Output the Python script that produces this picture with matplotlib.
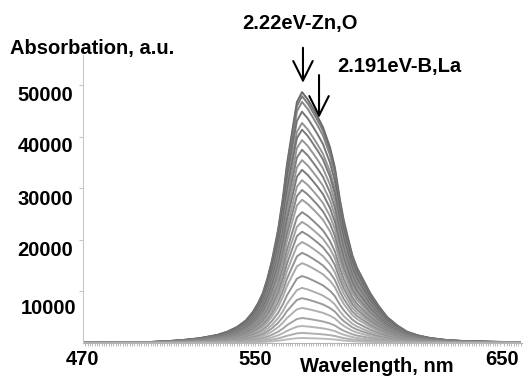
import matplotlib
matplotlib.use('Agg')
import matplotlib.pyplot as plt
import matplotlib.transforms as mtransforms
import numpy as np

# wavelength grid (nm) and normalised shape of the spectra
wavelength = [470.0, 480.0, 490.0, 498.8, 506.0, 513.0, 520.0, 527.6, 532.0, 536.2,
              540.0, 543.0, 545.3, 547.3, 549.3, 551.2, 553.8, 555.9, 557.6, 559.8,
              561.9, 564.1, 566.6, 568.8, 570.9, 573.1, 576.1, 578.2, 580.4, 582.0,
              583.8, 585.7, 587.7, 590.5, 593.3, 597.0, 600.6, 605.0, 609.2, 614.0,
              619.1, 626.0, 633.2, 645.0, 657.7]
profile = [0.002, 0.0025, 0.003, 0.004, 0.007, 0.012, 0.019, 0.032, 0.045, 0.064,
           0.090, 0.124, 0.160, 0.20, 0.26, 0.33, 0.45, 0.58, 0.71, 0.84,
           0.96, 1.00, 0.97, 0.935, 0.90, 0.86, 0.78, 0.70, 0.57, 0.49,
           0.42, 0.35, 0.30, 0.25, 0.20, 0.148, 0.104, 0.070, 0.045, 0.030,
           0.020, 0.012, 0.008, 0.005, 0.003]

# peak heights of the individual spectra (a.u.)
peaks = [48700, 47900, 46800, 44900, 42700, 41400, 39400, 37500, 35500,
         33600, 31600, 29700, 27800, 25400, 23500, 21600, 19600, 17500,
         15500, 13000, 10700, 8700, 6800, 4850, 3300, 1950, 970]
grays = ['#5a5a5a', '#6e6e6e', '#7a7a7a', '#666666', '#858585', '#6a6a6a',
         '#8a8a8a', '#707070', '#8c8c8c', '#6c6c6c', '#909090', '#787878',
         '#949494', '#7c7c7c', '#989898', '#808080', '#9c9c9c', '#868686',
         '#a0a0a0', '#8a8a8a', '#a4a4a4', '#909090', '#a8a8a8', '#9a9a9a',
         '#acacac', '#a6a6a6', '#b4b4b4']

yticks = [10000, 20000, 30000, 40000, 50000]
xticks = [470, 550, 650]

plt.rcParams['font.family'] = ['Liberation Sans', 'DejaVu Sans']
plt.rcParams['font.weight'] = 'bold'
FS = 14.5

fig = plt.figure(figsize=(5.3, 3.76), dpi=100)
ax = fig.add_axes([83 / 530, 1 - 343 / 376, 439 / 530, 288 / 376])

wl = np.array(wavelength)
shape = np.array(profile)
for p, c in zip(peaks, grays):
    ax.plot(wl, shape * p, color=c, lw=1.4, alpha=0.9)

ax.set_xlim(470, 658.6)
ax.set_ylim(0, 55900)

for s in ['top', 'right']:
    ax.spines[s].set_visible(False)
ax.spines['left'].set_color('#c8c8c8')
ax.spines['bottom'].set_color('#b4b4b4')

ax.set_yticks(yticks)
ax.set_yticklabels([str(v) for v in yticks])
ax.tick_params(axis='y', length=3, color='#c8c8c8', pad=4, labelsize=FS)
ax.set_xticks(xticks)
ax.set_xticklabels([str(v) for v in xticks])
ax.set_xticks(np.arange(470, 659, 1), minor=True)
ax.tick_params(axis='x', which='major', length=0, pad=5, labelsize=FS)
ax.tick_params(axis='x', which='minor', length=2.5, width=0.6, color='#b0b0b0')

# the original labels sit a little off their ticks
y_shift = [(3, -15), (0, -9), (0, -9), (0, -8), (0, -8.5)]
for lab, (dx, dy) in zip(ax.get_yticklabels(), y_shift):
    lab.set_transform(lab.get_transform() +
                      mtransforms.ScaledTranslation(dx / 100, dy / 100, fig.dpi_scale_trans))
x_shift = [0, -14, 0]
for lab, dx in zip(ax.get_xticklabels(), x_shift):
    lab.set_transform(lab.get_transform() +
                      mtransforms.ScaledTranslation(dx / 100, 0, fig.dpi_scale_trans))

ax.set_xlabel('Wavelength, nm', fontsize=FS, fontweight='bold')
ax.xaxis.set_label_coords(0.67, -0.08)
ax.xaxis.label.set_verticalalignment('center')
ax.set_ylabel('Absorbation, a.u.', fontsize=FS, fontweight='bold', rotation=0,
              ha='left', va='center')
ax.yaxis.set_label_coords(-0.166, 1.024)

# arrows marking the peak and the shoulder
arrow = dict(arrowstyle='->, head_length=1.4, head_width=0.7', lw=1.5,
             color='black', shrinkA=0, shrinkB=0, mutation_scale=10)
ax.annotate('', xy=(564.5, 50500), xytext=(564.5, 57300), arrowprops=arrow,
            annotation_clip=False)
ax.annotate('', xy=(571.4, 43700), xytext=(571.4, 52000), arrowprops=arrow,
            annotation_clip=False)
ax.text(563.2, 62100, '2.22eV-Zn,O', fontsize=FS, fontweight='bold',
        ha='center', va='center', clip_on=False)
ax.text(579.1, 53600, '2.191eV-B,La', fontsize=FS, fontweight='bold',
        ha='left', va='center', clip_on=False)

fig.savefig('out.png', dpi=100)
